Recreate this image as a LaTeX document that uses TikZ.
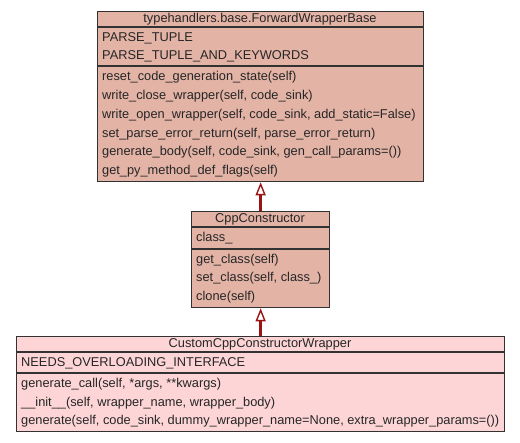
\documentclass[tikz,border=0pt]{standalone}
\usepackage{fontspec}
\setmainfont{Liberation Sans}
\usetikzlibrary{arrows.meta}
\definecolor{boxdark}{RGB}{227,179,166}
\definecolor{boxlight}{RGB}{253,213,214}
\definecolor{edgegray}{RGB}{50,50,50}
\definecolor{arrowred}{RGB}{155,20,20}
\begin{document}
\begin{tikzpicture}[x=1pt,y=-1pt,
  umlbox/.style={draw=edgegray, line width=1.3pt, inner sep=0pt, anchor=north west},
  sepline/.style={draw=edgegray, line width=1.3pt},
  lbl/.style={inner sep=0pt, anchor=base west, font=\fontsize{12.8}{15}\selectfont, text=black!85},
  ttl/.style={inner sep=0pt, anchor=base, font=\fontsize{12.8}{15}\selectfont, text=black!85},
  inherit/.style={draw=arrowred, line width=2.6pt, -{Triangle[open, length=13pt, width=10pt, line width=1.4pt]}}
]
\fill[white] (0,0) rectangle (520,443);
\useasboundingbox (0,0) rectangle (520,443);

% Box 1
\node[umlbox, fill=boxdark, minimum width=326pt, minimum height=170pt] (b1) at (97,11) {};
\draw[sepline] (b1.west |- 0,27) -- (b1.east |- 0,27);
\draw[sepline] (b1.west |- 0,66) -- (b1.east |- 0,66);
\node[ttl] (b1t) at (260,23) {typehandlers.base.ForwardWrapperBase};
\node[lbl] (b1a1) at (102,41.5) {PARSE\_TUPLE};
\node[lbl] (b1a2) at (102,60) {PARSE\_TUPLE\_AND\_KEYWORDS};
\node[lbl] (b1m1) at (102,81) {reset\_code\_generation\_state(self)};
\node[lbl] (b1m2) at (102,99.7) {write\_close\_wrapper(self, code\_sink)};
\node[lbl] (b1m3) at (102,118.4) {write\_open\_wrapper(self, code\_sink, add\_static=False)};
\node[lbl] (b1m4) at (102,137.1) {set\_parse\_error\_return(self, parse\_error\_return)};
\node[lbl] (b1m5) at (102,155.8) {generate\_body(self, code\_sink, gen\_call\_params=())};
\node[lbl] (b1m6) at (102,174.5) {get\_py\_method\_def\_flags(self)};

% Box 2
\node[umlbox, fill=boxdark, minimum width=138pt, minimum height=96pt] (b2) at (191,211) {};
\draw[sepline] (b2.west |- 0,227) -- (b2.east |- 0,227);
\draw[sepline] (b2.west |- 0,249) -- (b2.east |- 0,249);
\node[ttl] (b2t) at (260,223) {CppConstructor};
\node[lbl] (b2a1) at (196,242) {class\_};
\node[lbl] (b2m1) at (196,263.5) {get\_class(self)};
\node[lbl] (b2m2) at (196,282) {set\_class(self, class\_)};
\node[lbl] (b2m3) at (196,300.5) {clone(self)};

% Box 3
\node[umlbox, fill=boxlight, minimum width=488pt, minimum height=95pt] (b3) at (16,336) {};
\draw[sepline] (b3.west |- 0,352) -- (b3.east |- 0,352);
\draw[sepline] (b3.west |- 0,373) -- (b3.east |- 0,373);
\node[ttl] (b3t) at (260,347.5) {CustomCppConstructorWrapper};
\node[lbl] (b3a1) at (21,366.5) {NEEDS\_OVERLOADING\_INTERFACE};
\node[lbl] (b3m1) at (21,388) {generate\_call(self, *args, **kwargs)};
\node[lbl] (b3m2) at (21,406.5) {\_\_init\_\_(self, wrapper\_name, wrapper\_body)};
\node[lbl] (b3m3) at (21,425) {generate(self, code\_sink, dummy\_wrapper\_name=None, extra\_wrapper\_params=())};

% Inheritance
\draw[inherit] (b2.north) -- (b1.south);
\draw[inherit] (b3.north) -- (b2.south);
\end{tikzpicture}
\end{document}
